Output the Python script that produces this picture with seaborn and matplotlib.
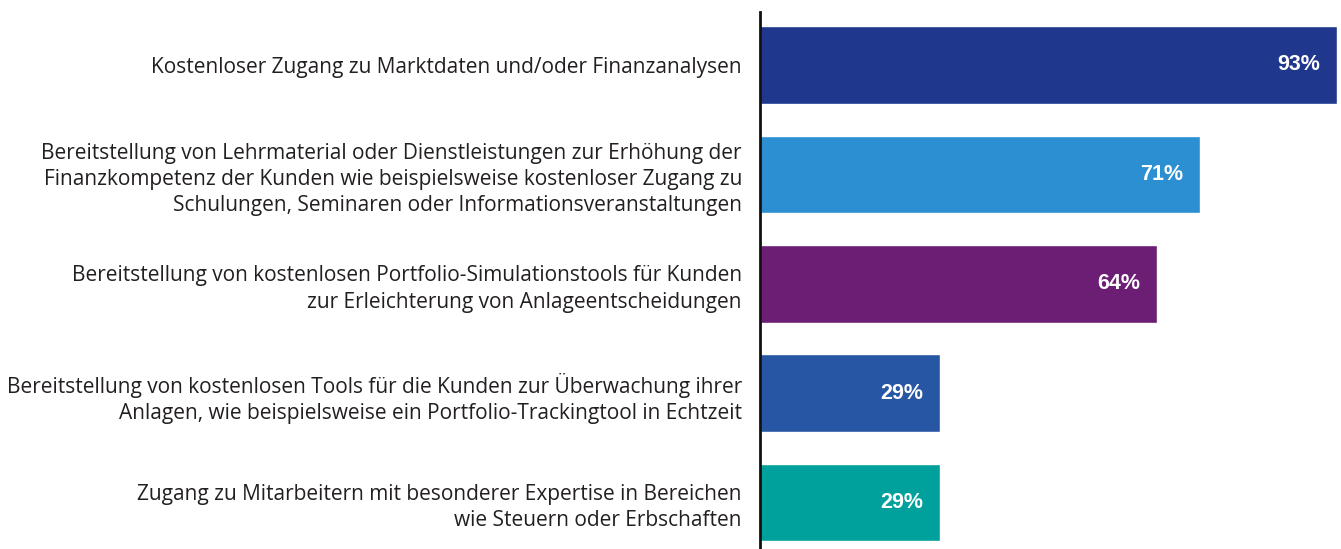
import matplotlib
matplotlib.use("Agg")
import matplotlib.pyplot as plt
import seaborn as sns
import pandas as pd

categories = [
    "Kostenloser Zugang zu Marktdaten und/oder Finanzanalysen",
    "Bereitstellung von Lehrmaterial oder Dienstleistungen zur Erhöhung der\nFinanzkompetenz der Kunden wie beispielsweise kostenloser Zugang zu\nSchulungen, Seminaren oder Informationsveranstaltungen",
    "Bereitstellung von kostenlosen Portfolio-Simulationstools für Kunden\nzur Erleichterung von Anlageentscheidungen",
    "Bereitstellung von kostenlosen Tools für die Kunden zur Überwachung ihrer\nAnlagen, wie beispielsweise ein Portfolio-Trackingtool in Echtzeit",
    "Zugang zu Mitarbeitern mit besonderer Expertise in Bereichen\nwie Steuern oder Erbschaften",
]
values = [93, 71, 64, 29, 29]
colors = ["#1F378D", "#2B8FD1", "#6B1E74", "#2756A4", "#00A19D"]

sns.set_theme(style="white")
plt.rcParams["font.family"] = ["Open Sans", "DejaVu Sans"]

df = pd.DataFrame({"cat": categories, "val": values})

fig = plt.figure(figsize=(13.41, 5.49), dpi=100)
ax = fig.add_axes([760 / 1341, 0, 1 - 760 / 1341, 1 - 12 / 549])

sns.barplot(data=df, y="cat", x="val", hue="cat", palette=colors,
            dodge=False, legend=False, width=0.71, ax=ax, orient="h",
            saturation=1)

ax.set_xlim(0, 93.7)
ax.set_ylim(4.425, -0.484)
ax.set_xlabel("")
ax.set_ylabel("")
ax.set_xticks([])
for s in ["top", "right", "bottom"]:
    ax.spines[s].set_visible(False)
ax.spines["left"].set_color("#111111")
ax.spines["left"].set_linewidth(2)
ax.tick_params(axis="y", length=0, pad=13)
for lab in ax.get_yticklabels():
    lab.set_fontsize(15)
    lab.set_color("#231F20")
    lab.set_linespacing(1.33)
    lab.set_horizontalalignment("right")
    lab.set_multialignment("right")

for i, v in enumerate(values):
    ax.text(v - 2.7, i, f"{v}%", ha="right", va="center", color="white",
            fontsize=15.5, fontweight="bold",
            family=["Liberation Sans", "DejaVu Sans"])

fig.savefig("out.png", dpi=100)
